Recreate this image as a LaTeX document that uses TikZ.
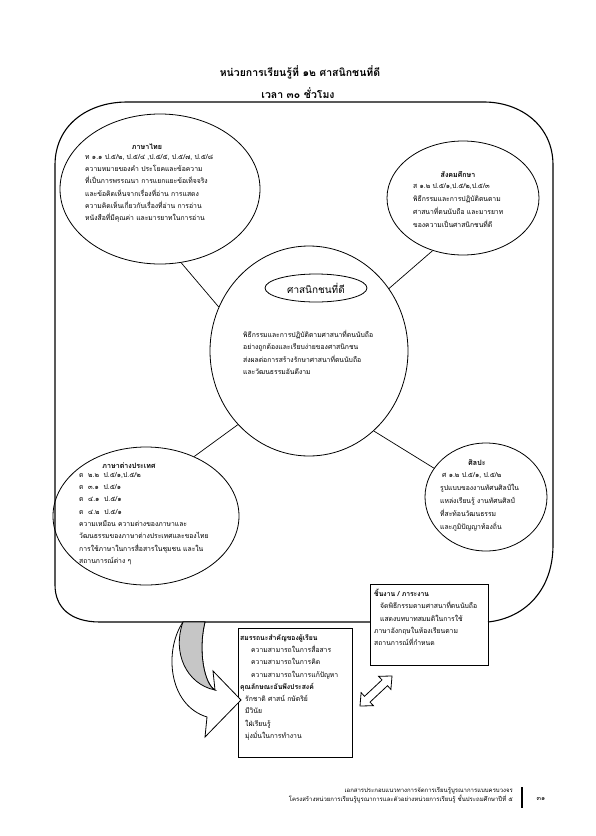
\documentclass[tikz,border=0pt]{standalone}
\usepackage{fontspec}
\setmainfont[Script=Thai]{Loma}
\newfontfamily\thain[Script=Thai, FakeStretch=0.97]{Loma}
\usetikzlibrary{shapes.geometric}
\begin{document}
\begin{tikzpicture}[x=1pt,y=-1pt,
  frame/.style={line width=1.1pt, line join=round},
  circ/.style={ellipse, draw, line width=0.8pt, inner sep=0pt},
  conn/.style={line width=0.7pt},
  txt/.style={font=\thain\fontsize{7}{12.3}\selectfont, align=left, inner sep=0pt, anchor=north west},
  hd/.style={font=\thain\fontsize{7.3}{9}\selectfont\bfseries, inner sep=0pt},
  ttl/.style={font=\fontsize{10.5}{12}\selectfont\bfseries, inner sep=0pt},
  boxs/.style={draw, line width=0.8pt, inner sep=0pt, anchor=north west},
]
\useasboundingbox (0,0) rectangle (595,836);
\fill[white] (0,0) rectangle (595,836);

% title
\node[ttl] (t1) at (300,72) {หน่วยการเรียนรู้ที่ ๑๒ ศาสนิกชนที่ดี};
\node[ttl] (t2) at (298,93) {เวลา ๓๐ ชั่วโมง};

% boxes
\node[boxs, minimum width=118pt, minimum height=81pt] (wb) at (370,584) {};
\node[boxs, minimum width=114pt, minimum height=129pt] (cb) at (238,628) {};

% frame
\draw[frame] (370,622) -- (100,622) .. controls (70,622) and (55,607) .. (55,585) -- (55,165)
  .. controls (55,125) and (88,102) .. (127,102) -- (484,102)
  .. controls (520,102) and (553,125) .. (553,165) -- (553,545)
  .. controls (553,590) and (525,618) .. (488,622);

% circles
\node[circ, minimum width=200pt, minimum height=150pt] (tl) at (160,189) {};
\node[circ, minimum width=152pt, minimum height=114pt] (tr) at (463,198) {};
\node[circ, minimum width=198pt, minimum height=210pt] (cc) at (309,351) {};
\node[circ, minimum width=102pt, minimum height=28pt, font=\fontsize{10}{12}\selectfont] (ce) at (316,288) {ศาสนิกชนที่ดี};
\node[circ, minimum width=186pt, minimum height=138pt] (bl) at (146,516) {};
\node[circ, minimum width=122pt, minimum height=108pt] (br) at (486,497) {};

% connectors
\draw[conn] (tl.-74) -- (cc.154);
\draw[conn] (tr.-120) -- (cc.38);
\draw[conn] (bl.51) -- (cc.-134);
\draw[conn] (br.151) -- (cc.-51);

% texts in circles
\node[hd] (h1) at (147,147) {ภาษาไทย};
\node[txt] (b1) at (85,154) {ท ๑.๑ ป.๕/๒, ป.๕/๔ ,ป.๕/๕, ป.๕/๗, ป.๕/๘\\
ความหมายของคำ ประโยคและข้อความ\\
ที่เป็นการพรรณนา การแยกแยะข้อเท็จจริง\\
และข้อคิดเห็นจากเรื่องที่อ่าน การแสดง\\
ความคิดเห็นเกี่ยวกับเรื่องที่อ่าน การอ่าน\\
หนังสือที่มีคุณค่า และมารยาทในการอ่าน};

\node[hd] (h2) at (458,175) {สังคมศึกษา};
\node[txt, font=\thain\fontsize{7}{13}\selectfont] (b2) at (413,183) {ส ๑.๒ ป.๕/๑,ป.๕/๒,ป.๕/๓\\
พิธีกรรมและการปฏิบัติตนตาม\\
ศาสนาที่ตนนับถือ และมารยาท\\
ของความเป็นศาสนิกชนที่ดี};

\node[txt] (b3) at (243,330) {พิธีกรรมและการปฏิบัติตามศาสนาที่ตนนับถือ\\
อย่างถูกต้องและเรียบง่ายของศาสนิกชน\\
ส่งผลต่อการสร้างรักษาศาสนาที่ตนนับถือ\\
และวัฒนธรรมอันดีงาม};

\node[hd] (h4) at (129,466) {ภาษาต่างประเทศ};
\node[txt] (b4) at (79,472) {ต ~๒.๒ ~ป.๕/๑,ป.๕/๒\\
ต ~๓.๑ ~ป.๕/๑\\
ต ~๔.๑ ~ป.๕/๑\\
ต ~๔.๒ ~ป.๕/๑\\
ความเหมือน ความต่างของภาษาและ\\
วัฒนธรรมของภาษาต่างประเทศและของไทย\\
การใช้ภาษาในการสื่อสารในชุมชน และใน\\
สถานการณ์ต่าง ๆ};

\node[hd] (h5) at (477,463) {ศิลปะ};
\node[txt, font=\thain\fontsize{7}{13}\selectfont] (b5) at (440,472) {\hspace*{2pt}ศ ๑.๒ ป.๕/๑, ป.๕/๒\\
รูปแบบของงานทัศนศิลป์ใน\\
แหล่งเรียนรู้ งานทัศนศิลป์\\
ที่สะท้อนวัฒนธรรม\\
และภูมิปัญญาท้องถิ่น};

% work box text
\node[txt] (b6) at (374,589) {\textbf{ชิ้นงาน / ภาระงาน}\\
\hspace*{6pt}จัดพิธีกรรมตามศาสนาที่ตนนับถือ\\
\hspace*{6pt}แสดงบทบาทสมมติในการใช้\\
ภาษาอังกฤษในห้องเรียนตาม\\
สถานการณ์ที่กำหนด};

% competency box text
\node[txt] (b7) at (240,634) {\textbf{สมรรถนะสำคัญของผู้เรียน}\\
\hspace*{11pt}ความสามารถในการสื่อสาร\\
\hspace*{11pt}ความสามารถในการคิด\\
\hspace*{11pt}ความสามารถในการแก้ปัญหา\\
\textbf{คุณลักษณะอันพึงประสงค์}\\
\hspace*{5pt}รักชาติ ศาสน์ กษัตริย์\\
\hspace*{5pt}มีวินัย\\
\hspace*{5pt}ใฝ่เรียนรู้\\
\hspace*{5pt}มุ่งมั่นในการทำงาน};

% curved arrow
\filldraw[fill=white, line width=0.8pt, line join=miter] (183,622) .. controls (164,650) and (168,705) .. (207,717)
  -- (205,737) -- (241,700) -- (213,671) -- (215,690)
  .. controls (204,684) and (198,650) .. (205,622) -- cycle;
\filldraw[fill=gray!45, line width=0.8pt] (183,622) -- (205,622) .. controls (198,650) and (204,684) .. (215,690)
  .. controls (186,684) and (172,652) .. (183,622) -- cycle;

% double arrow
\draw[line width=0.8pt, fill=white] (360.0,706.0) -- (373.4,705.7) -- (370.0,702.1) -- (387.5,685.7) -- (390.9,689.4)
  -- (392.0,676.0) -- (378.6,676.3) -- (382.0,679.9) -- (364.5,696.3) -- (361.1,692.6) -- cycle;

% footer
\node[font=\fontsize{6}{9}\selectfont, align=right, inner sep=0pt, anchor=north east] (ft) at (513,787) {เอกสารประกอบแนวทางการจัดการเรียนรู้บูรณาการแบบครบวงจร\\
โครงสร้างหน่วยการเรียนรู้บูรณาการและตัวอย่างหน่วยการเรียนรู้ ชั้นประถมศึกษาปีที่ ๕};
\draw[line width=1.2pt] (522,787) -- (522,808);
\node[font=\fontsize{6.5}{8}\selectfont, inner sep=0pt] (pg) at (541,799) {๓๑};
\end{tikzpicture}
\end{document}
